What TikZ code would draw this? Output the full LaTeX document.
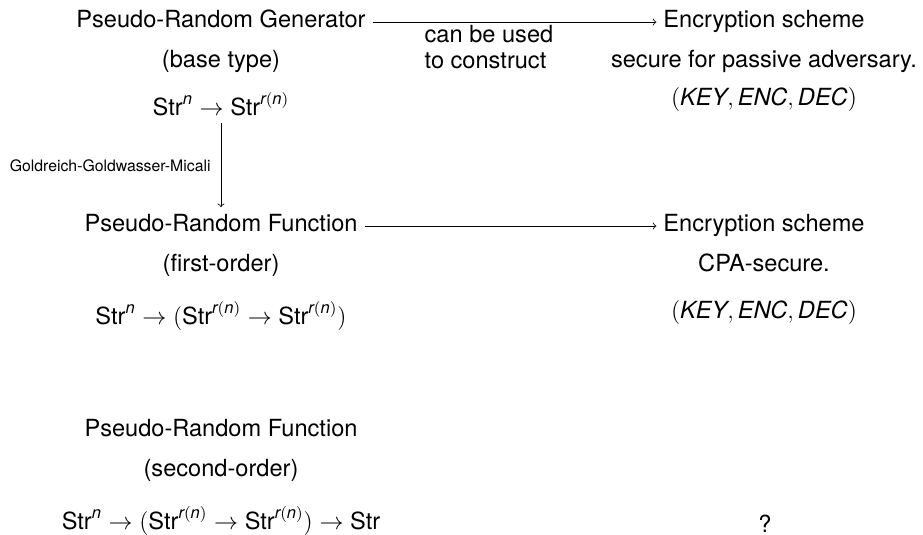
\documentclass[tikz,border=0pt]{standalone}
\usepackage{amsmath}
\usepackage{fontspec}
\setmainfont{TeX Gyre Heros}
% italic sans variable and the string type
\newcommand{\vr}[1]{\text{\itshape #1}}
\newcommand{\Strg}{\text{Str}}
\newcommand{\rn}{\vr{r}(\vr{n})}
\begin{document}
\begin{tikzpicture}[x=0.5pt, y=-0.5pt,
  txt/.style={anchor=base, font=\fontsize{11.8}{14.2}\selectfont},
  head/.style={txt, text height=8.9pt, text depth=3pt},
  link/.style={->, line width=0.4pt},
  note/.style={font=\fontsize{7.9}{9.5}\selectfont, inner sep=5pt},
  edgelabel/.style={font=\fontsize{11.8}{13}\selectfont, align=left, inner sep=1.5pt}]
\useasboundingbox (0,0) rectangle (923,535);

% first row: generator
\node[head] (g)  at (221,28)  {Pseudo-Random Generator};
\node[txt]  (g1) at (221,68)  {(base type)};
\node[txt]  (g2) at (221,116) {$\Strg^{\vr{n}} \to \Strg^{\rn}$};

\node[head] (e)  at (764,28)  {Encryption scheme};
\node[txt]  (e1) at (764,68)  {secure for passive adversary.};
\node[txt]  (e2) at (764,106) {$(\text{\itshape KEY}, \text{\itshape ENC}, \text{\itshape DEC})$};

% second row: first-order function
\node[head] (f)  at (221,232) {Pseudo-Random Function};
\node[txt]  (f1) at (221,272) {(first-order)};
\node[txt]  (f2) at (221,325) {$\Strg^{\vr{n}} \to (\Strg^{\rn} \to \Strg^{\rn})$};

\node[head] (c)  at (764,232) {Encryption scheme};
\node[txt]  (c1) at (764,272) {CPA-secure.};
\node[txt]  (c2) at (764,319) {$(\text{\itshape KEY}, \text{\itshape ENC}, \text{\itshape DEC})$};

% third row: second-order function
\node[head] (s)  at (221,437) {Pseudo-Random Function};
\node[txt]  (s1) at (221,477) {(second-order)};
\node[txt]  (s2) at (221,530) {$\Strg^{\vr{n}} \to (\Strg^{\rn} \to \Strg^{\rn}) \to \Strg$};
\node[txt]  (q)  at (765,532) {?};

% connectors
\draw[link] (g) -- node[pos=0.41, below, edgelabel] {can be used\\to construct} (e);
\draw[link] (g2) -- node[midway, left, note] {Goldreich-Goldwasser-Micali} (f);
\draw[link] (f) -- (c);
\end{tikzpicture}
\end{document}
